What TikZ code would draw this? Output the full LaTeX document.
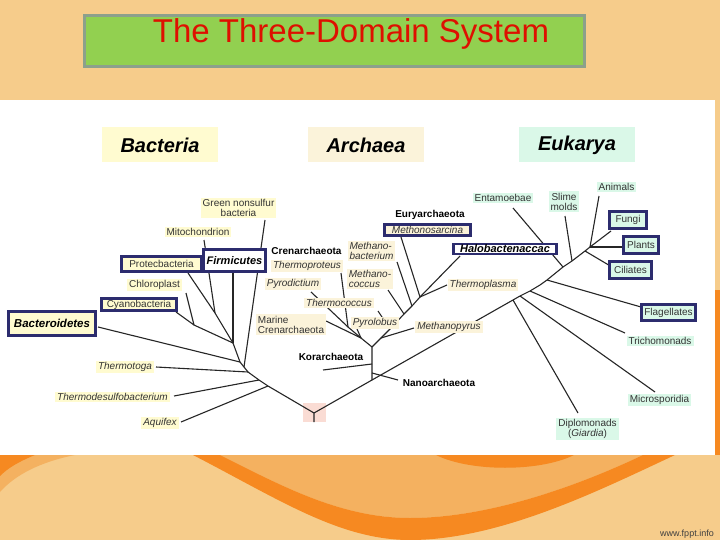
\documentclass[tikz,border=0pt]{standalone}
\usepackage{fontspec}
\setmainfont{Liberation Sans}
\definecolor{BgOr}{RGB}{246,204,139}
\definecolor{MidOr}{RGB}{244,177,96}
\definecolor{DkOr}{RGB}{246,137,33}
\definecolor{TitleGreen}{RGB}{146,208,80}
\definecolor{TitleBorder}{RGB}{140,160,140}
\definecolor{TitleRed}{RGB}{222,16,0}
\definecolor{BacY}{RGB}{255,251,208}
\definecolor{ArcB}{RGB}{251,243,218}
\definecolor{EukG}{RGB}{218,248,232}
\definecolor{Navy}{RGB}{44,44,110}
\definecolor{RootPink}{RGB}{250,220,212}
\newcommand\labfont{\fontsize{10}{10}\selectfont}
\begin{document}
\begin{tikzpicture}[x=1pt,y=-1pt,
  edge/.style={line width=1.1pt, draw=black!85},
  lab/.style={font=\labfont, text=black!80, inner xsep=2pt, inner ysep=1.5pt},
  itl/.style={lab, font=\labfont\itshape},
  bac/.style={fill=BacY},
  arc/.style={fill=ArcB},
  euk/.style={fill=EukG},
  boldlab/.style={lab, font=\labfont\bfseries, text=black},
  navbox/.style={draw=Navy, line width=2.6pt, inner sep=0pt},
  dom/.style={font=\fontsize{20}{24}\selectfont\bfseries\itshape, text=black, minimum width=116pt, minimum height=35pt, inner sep=0pt}
]
\useasboundingbox (0,0) rectangle (720,540);
% background
\fill[BgOr] (0,0) rectangle (720,540);
\fill[MidOr] (220,455) .. controls (280,485) and (340,518) .. (410,518) .. controls (490,518) and (580,485) .. (643,455) -- cycle;
\fill[DkOr] (193,455) .. controls (280,500) and (340,540) .. (410,540) .. controls (500,540) and (600,490) .. (675,455) -- (643,455) .. controls (580,485) and (490,518) .. (410,518) .. controls (340,518) and (280,485) .. (220,455) -- cycle;
\fill[DkOr] (436,455) .. controls (470,472) and (540,472) .. (574,455) -- cycle;
\fill[MidOr] (0,455) -- (75,455) .. controls (40,462) and (15,475) .. (0,492) -- cycle;
\fill[DkOr] (0,455) -- (35,455) .. controls (18,462) and (8,468) .. (0,476) -- cycle;
\fill[DkOr] (715,290) rectangle (720,455);
\fill[white] (0,100) rectangle (715,455);
\node[anchor=base, font=\fontsize{9}{10}\selectfont, text=black!75] (web) at (687,536) {www.fppt.info};
% title
\node[draw=TitleBorder, line width=3pt, fill=TitleGreen, minimum width=500pt, minimum height=51pt, inner sep=0pt] (titlebox) at (334.5,41) {};
\node[anchor=base, font=\fontsize{33}{38}\selectfont, text=TitleRed, inner sep=0pt] (title) at (351,43) {The Three-Domain System};
% domain headers
\node[dom, fill=BacY] (dBac) at (160,145) {Bacteria};
\node[dom, fill=ArcB] (dArc) at (366,145) {Archaea};
\node[dom, fill=EukG] (dEuk) at (577,145) {Eukarya};
% root
\fill[RootPink] (303,403) rectangle (326,422);
% ---- coordinates
\coordinate (R) at (314,413);
\coordinate (Rs) at (314,422);
\coordinate (b1) at (268,386);
\coordinate (b2) at (259,380);
\coordinate (b3) at (248,372);
\coordinate (bG) at (244,367);
\coordinate (bN) at (240,362);
\coordinate (bC) at (233,343);
\coordinate (bP) at (215,313);
\coordinate (bY) at (194,325);
\coordinate (eAq) at (181,422);
\coordinate (eTd) at (174,396);
\coordinate (eTt) at (156,367);
\coordinate (eGn) at (265,220);
\coordinate (eBd) at (98,327);
\coordinate (eFi) at (233,273);
\coordinate (ePr) at (188,273);
\coordinate (eMi) at (204,240);
\coordinate (eCh) at (186,293);
\coordinate (eCy) at (176,312);
\coordinate (A) at (372,380);
\coordinate (K) at (372,347);
\coordinate (kJ) at (372,364);
\coordinate (nJ) at (372,373);
\coordinate (C) at (361,338);
\coordinate (Cp) at (348,327);
\coordinate (E1) at (381,338);
\coordinate (E2) at (390,329);
\coordinate (E3) at (404,314);
\coordinate (E4) at (412,306);
\coordinate (Et) at (420,297);
\coordinate (eKo) at (323,370);
\coordinate (eNa) at (398,380);
\coordinate (eMa) at (326,321);
\coordinate (ePd) at (311,292);
\coordinate (eTp) at (341,273);
\coordinate (ePl) at (357,329);
\coordinate (eMp) at (414,328);
\coordinate (eTc) at (378,311);
\coordinate (eMc) at (388,290);
\coordinate (eMb) at (397,262);
\coordinate (eMs) at (401,237);
\coordinate (eHa) at (460,256);
\coordinate (eTpl) at (447,285);
\coordinate (T1) at (540,285);
\coordinate (T2) at (611,231);
\coordinate (u1) at (513,300);
\coordinate (u2) at (520,296);
\coordinate (u3) at (530,291);
\coordinate (u4) at (547,280);
\coordinate (u5) at (563,267);
\coordinate (u6) at (572,261);
\coordinate (u7) at (585,251);
\coordinate (u8) at (590,247);
\coordinate (eDi) at (578,413);
\coordinate (eMic) at (655,392);
\coordinate (eTr) at (625,333);
\coordinate (eFl) at (641,307);
\coordinate (eEn) at (513,208);
\coordinate (eSl) at (565,216);
\coordinate (eCi) at (612,267);
\coordinate (ePlt) at (623,247);
\coordinate (eAn) at (599,196);
% ---- edges: bacteria
\draw[edge] (Rs) -- (R) -- (b1) -- (b2) -- (b3) -- (bG) -- (bN) -- (bC);
\draw[edge] (eAq) -- (b1);
\draw[edge] (eTd) -- (b2);
\draw[edge] (eTt) -- (b3);
\draw[edge] (eGn) -- (bG);
\draw[edge] (eBd) -- (bN);
\draw[edge] (eFi) -- (bC);
\draw[edge] (ePr) -- (bP) -- (bC);
\draw[edge] (eMi) -- (bP);
\draw[edge] (eCh) -- (bY) -- (bC);
\draw[edge] (eCy) -- (bY);
% archaea
\draw[edge] (R) -- (A) -- (K) -- (C) -- (Cp);
\draw[edge] (eKo) -- (kJ);
\draw[edge] (nJ) -- (eNa);
\draw[edge] (eMa) -- (C);
\draw[edge] (ePl) -- (C);
\draw[edge] (ePd) -- (Cp);
\draw[edge] (eTp) -- (Cp);
\draw[edge] (K) -- (E1) -- (E2) -- (E3) -- (E4) -- (Et);
\draw[edge] (E1) -- (eMp);
\draw[edge] (eTc) -- (E2);
\draw[edge] (eMc) -- (E3);
\draw[edge] (eMb) -- (E4);
\draw[edge] (eMs) -- (Et);
\draw[edge] (eHa) -- (Et);
\draw[edge] (eTpl) -- (Et);
% eukarya
\draw[edge] (A) -- (u1) -- (u2) -- (u3) -- (T1) -- (u4) -- (u5) -- (u6) -- (u7) -- (u8) -- (T2);
\draw[edge] (u1) -- (eDi);
\draw[edge] (u2) -- (eMic);
\draw[edge] (u3) -- (eTr);
\draw[edge] (u4) -- (eFl);
\draw[edge] (eEn) -- (u5);
\draw[edge] (eSl) -- (u6);
\draw[edge] (u7) -- (eCi);
\draw[edge] (u8) -- (ePlt);
\draw[edge] (eAn) -- (u8);
% ---- labels: bacteria
\node[lab, bac, align=center] (gns) at (238.5,208) {Green nonsulfur\\bacteria};
\node[lab, bac] (mito) at (198,232) {Mitochondrion};
\node[lab, bac, navbox, minimum width=80pt, minimum height=15.5pt] (prot) at (161.5,264) {Protecbacteria};
\node[navbox, fill=white, font=\fontsize{11}{11}\selectfont\bfseries\itshape, minimum width=62pt, minimum height=22pt] (firm) at (234.5,260.5) {Firmicutes};
\node[lab, bac] (chloro) at (154.5,285) {Chloroplast};
\node[lab, bac, navbox, minimum width=75.5pt, minimum height=12.5pt] (cyano) at (139,304.5) {Cyanobacteria};
\node[navbox, fill=BacY, font=\fontsize{11.5}{11.5}\selectfont\bfseries\itshape, minimum width=87.5pt, minimum height=24.5pt] (bacteroid) at (52,323.5) {Bacteroidetes};
\node[itl, bac] (ttoga) at (125,367) {Thermotoga};
\node[itl, bac] (tdes) at (112.5,397) {Thermodesulfobacterium};
\node[itl, bac] (aquifex) at (160,423) {Aquifex};
% labels: archaea
\node[boldlab] (cren) at (306.5,251) {Crenarchaeota};
\node[itl, arc] (tprot) at (307,266) {Thermoproteus};
\node[itl, arc] (pyrod) at (293,284) {Pyrodictium};
\node[itl, arc, align=left] (mbac) at (371.5,251) {Methano-\\bacterium};
\node[itl, arc, align=left] (mcoc) at (370,279) {Methano-\\coccus};
\node[itl, arc] (tcoc) at (339,303) {Thermococcus};
\node[lab, arc, align=left] (marine) at (291,324.5) {Marine\\Crenarchaeota};
\node[itl, arc] (pyrol) at (375,323) {Pyrolobus};
\node[boldlab] (eury) at (430,215) {Euryarchaeota};
\node[itl, arc, navbox, minimum width=86.5pt, minimum height=10.5pt] (msar) at (427.5,230) {Methonosarcina};
\node[navbox, fill=white, font=\fontsize{11}{11}\selectfont\bfseries\itshape, minimum width=103.5pt, minimum height=10pt] (halo) at (505,249) {Halobactenaccac};
\node[itl, arc] (tplasma) at (483,285) {Thermoplasma};
\node[itl, arc] (mpyr) at (449,327) {Methanopyrus};
\node[boldlab] (korarch) at (331,357) {Korarchaeota};
\node[boldlab] (nanoarch) at (439,383) {Nanoarchaeota};
% labels: eukarya
\node[lab, euk] (ent) at (503,198) {Entamoebae};
\node[lab, euk, align=center] (slime) at (564,201.5) {Slime\\molds};
\node[lab, euk] (animals) at (616.5,187) {Animals};
\node[lab, euk, navbox, minimum width=37.5pt, minimum height=17.5pt] (fungi) at (628,220) {Fungi};
\node[lab, euk, navbox, minimum width=35.5pt, minimum height=17.5pt] (plants) at (641,245) {Plants};
\node[lab, euk, navbox, minimum width=42.5pt, minimum height=17.5pt] (ciliates) at (630.5,270) {Ciliates};
\node[lab, euk, navbox, minimum width=54.5pt, minimum height=16.5pt] (flag) at (668.5,312.5) {Flagellates};
\node[lab, euk] (trich) at (660,341) {Trichomonads};
\node[lab, euk] (micro) at (659.5,400) {Microsporidia};
\node[lab, euk, align=center] (diplo) at (587.5,429) {Diplomonads\\(\textit{Giardia})};
\end{tikzpicture}
\end{document}
